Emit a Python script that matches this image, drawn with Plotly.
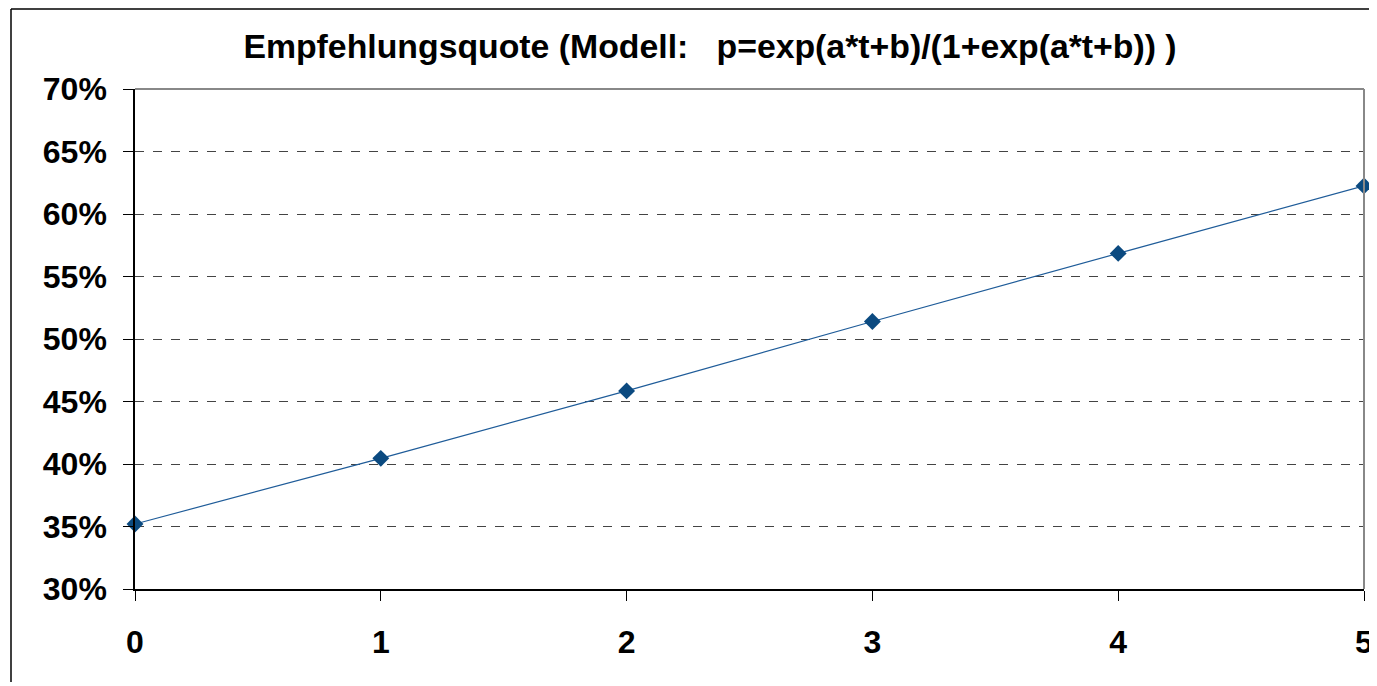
import plotly.graph_objects as go

t_values = [0, 1, 2, 3, 4, 5]
quote_pct = [35.2, 40.45, 45.85, 51.4, 56.85, 62.25]
y_ticks = [30, 35, 40, 45, 50, 55, 60, 65, 70]
y_tick_labels = [f"{v}%" for v in y_ticks]
title_text = "Empfehlungsquote (Modell:   p=exp(a*t+b)/(1+exp(a*t+b)) )"

# page body adds an 8px offset; size the figure so it fits the window
W, H = 1369, 674
L, T = 127, 81
PW, PH = 1229, 500

fig = go.Figure()
fig.add_trace(go.Scatter(
    x=t_values, y=quote_pct, mode="lines+markers",
    line=dict(color="#1F5C99", width=1.2),
    marker=dict(symbol="diamond", size=13, color="#0B4A80"),
    cliponaxis=False, showlegend=False,
))

fig.update_layout(
    width=W, height=H,
    margin=dict(l=L, r=W - L - PW, t=T, b=H - T - PH),
    paper_bgcolor="white", plot_bgcolor="white",
    font=dict(family="Liberation Sans, Arial, sans-serif", color="black"),
    title=dict(text="<b>" + title_text + "</b>", x=702 / W, xanchor="center",
               y=1 - 38 / H, yanchor="middle",
               font=dict(size=33.8, color="black")),
    xaxis=dict(range=[0, 5], tickmode="array", tickvals=t_values,
               ticktext=[f"<b>{v}</b>" for v in t_values],
               tickfont=dict(size=32), ticks="outside", ticklen=10,
               tickcolor="black", showgrid=False, zeroline=False,
               showline=True, linecolor="black", linewidth=1.5,
               ticklabelstandoff=14, automargin=False),
    yaxis=dict(range=[30, 70], tickmode="array", tickvals=y_ticks,
               ticktext=[f"<b>{s}</b>" for s in y_tick_labels],
               tickfont=dict(size=32), ticks="outside", ticklen=10,
               tickcolor="black", showgrid=True, gridcolor="#444444",
               griddash="dash", gridwidth=1, zeroline=False,
               showline=True, linecolor="black", linewidth=1.5,
               ticklabelstandoff=10, automargin=False),
)

# plot area border (top and right in gray)
fig.add_shape(type="line", xref="paper", yref="paper", x0=0, x1=1, y0=1, y1=1,
              line=dict(color="#888888", width=2))
fig.add_shape(type="line", xref="paper", yref="paper", x0=1, x1=1, y0=0, y1=1,
              line=dict(color="#888888", width=2))
# outer chart border (left and top edges visible in the crop)
bx = (3 - L) / PW
by = 1 + (T - 1) / PH
fig.add_shape(type="line", xref="paper", yref="paper", x0=bx, x1=bx, y0=-0.3, y1=by,
              line=dict(color="black", width=1.5), layer="below")
fig.add_shape(type="line", xref="paper", yref="paper", x0=bx, x1=1.1, y0=by, y1=by,
              line=dict(color="black", width=1.5), layer="below")

fig.write_html("out.html", config={"displayModeBar": False})
